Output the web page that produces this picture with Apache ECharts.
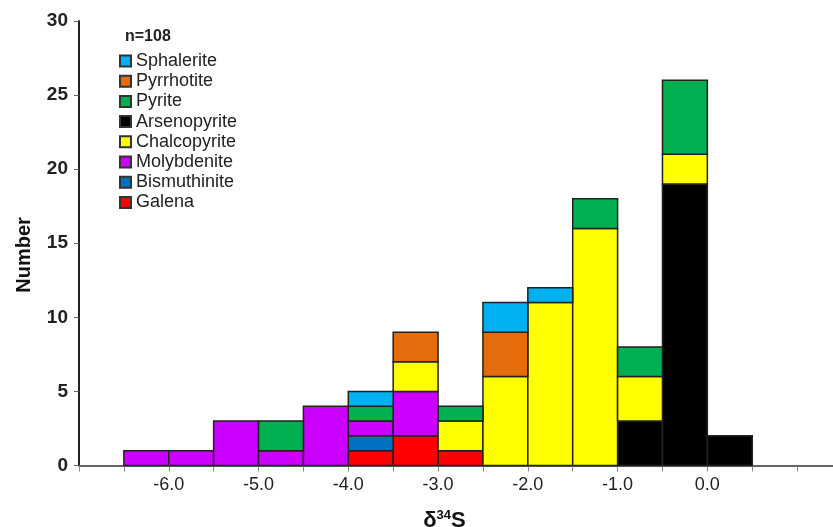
<!DOCTYPE html>
<html>
<head>
<meta charset="utf-8">
<title>δ34S histogram</title>
<script src="https://cdn.jsdelivr.net/npm/echarts@6/dist/echarts.min.js"></script>
<style>
  html, body { margin: 0; padding: 0; background: #fff; }
  #chart { width: 833px; height: 527px; }
</style>
</head>
<body>
<div id="chart"></div>
<script>
// bin left edges (δ34S, bin width 0.5)
const binStarts = [-6.5, -6.0, -5.5, -5.0, -4.5, -4.0, -3.5, -3.0, -2.5, -2.0, -1.5, -1.0, -0.5, 0.0];
const binWidth = 0.5;

// counts per bin, in stacking order (bottom -> top)
const galena       = [0, 0, 0, 0, 0, 1, 2, 1, 0, 0, 0, 0, 0, 0];
const bismuthinite = [0, 0, 0, 0, 0, 1, 0, 0, 0, 0, 0, 0, 0, 0];
const molybdenite  = [1, 1, 3, 1, 4, 1, 3, 0, 0, 0, 0, 0, 0, 0];
const arsenopyrite = [0, 0, 0, 0, 0, 0, 0, 0, 0, 0, 0, 3, 19, 2];
const chalcopyrite = [0, 0, 0, 0, 0, 0, 2, 2, 6, 11, 16, 3, 2, 0];
const pyrite       = [0, 0, 0, 2, 0, 1, 0, 1, 0, 0, 2, 2, 5, 0];
const pyrrhotite   = [0, 0, 0, 0, 0, 0, 2, 0, 3, 0, 0, 0, 0, 0];
const sphalerite   = [0, 0, 0, 0, 0, 1, 0, 0, 2, 1, 0, 0, 0, 0];

const minerals = [
  { name: 'Galena',       data: galena,       color: '#ff0000' },
  { name: 'Bismuthinite', data: bismuthinite, color: '#0070c0' },
  { name: 'Molybdenite',  data: molybdenite,  color: '#cc00ff' },
  { name: 'Arsenopyrite', data: arsenopyrite, color: '#000000' },
  { name: 'Chalcopyrite', data: chalcopyrite, color: '#ffff00' },
  { name: 'Pyrite',       data: pyrite,       color: '#00b050' },
  { name: 'Pyrrhotite',   data: pyrrhotite,   color: '#e46c0a' },
  { name: 'Sphalerite',   data: sphalerite,   color: '#00b0f0' }
];
const legendOrder = ['Sphalerite', 'Pyrrhotite', 'Pyrite', 'Arsenopyrite', 'Chalcopyrite', 'Molybdenite', 'Bismuthinite', 'Galena'];
const sampleCount = 'n=108';

const chart = echarts.init(document.getElementById('chart'));

// running stack height per bin
const stackTop = binStarts.map(() => 0);

const series = minerals.map(m => {
  const items = [];
  m.data.forEach((v, i) => {
    const bottom = stackTop[i];
    stackTop[i] += v;
    if (v > 0) items.push([binStarts[i], binStarts[i] + binWidth, bottom, bottom + v]);
  });
  return {
    name: m.name,
    type: 'custom',
    itemStyle: { color: m.color, borderColor: '#333', borderWidth: 1 },
    encode: { x: [0, 1], y: [2, 3] },
    renderItem: (params, api) => {
      const p0 = api.coord([api.value(0), api.value(2)]);
      const p1 = api.coord([api.value(1), api.value(3)]);
      return {
        type: 'rect',
        shape: { x: p0[0], y: p1[1], width: p1[0] - p0[0], height: p0[1] - p1[1] },
        style: { fill: m.color, stroke: '#222', lineWidth: 1.5 }
      };
    },
    data: items
  };
});

const option = {
  animation: false,
  grid: { left: 79, right: -9, top: 21, bottom: 61.5, outerBoundsMode: 'none' },
  legend: {
    data: legendOrder,
    orient: 'vertical',
    left: 119,
    top: 52,
    padding: 0,
    itemWidth: 11,
    itemHeight: 11,
    itemGap: 2.2,
    icon: 'rect',
    textStyle: { fontFamily: 'Liberation Sans', fontSize: 18, lineHeight: 18, color: '#222' }
  },
  graphic: [{
    type: 'text',
    left: 125,
    top: 29,
    style: { text: sampleCount, font: 'bold 16px "Liberation Sans"', fill: '#222' }
  }, {
    type: 'text',
    x: 24,
    y: 255,
    rotation: Math.PI / 2,
    style: {
      text: 'Number',
      font: 'bold 20px "Liberation Sans"',
      fill: '#111',
      align: 'center',
      verticalAlign: 'middle'
    }
  }],
  xAxis: {
    type: 'value',
    min: -7,
    max: 1.5,
    interval: 0.5,
    name: '{d|δ}{s|34}{d|S}',
    nameLocation: 'middle',
    nameGap: 43,
    nameTextStyle: {
      padding: [0, 32, 0, 0],
      rich: {
        d: { fontFamily: 'Liberation Sans', fontSize: 22, fontWeight: 'bold', color: '#111' },
        s: { fontFamily: 'Liberation Sans', fontSize: 13, fontWeight: 'bold', color: '#111', verticalAlign: 'bottom', padding: [0, 0, 12, 0] }
      }
    },
    splitLine: { show: false },
    axisLine: { lineStyle: { color: '#333', width: 1.5 } },
    axisTick: { length: 6, lineStyle: { color: '#888' } },
    axisLabel: {
      margin: 11,
      fontFamily: 'Liberation Sans',
      fontSize: 18,
      color: '#222',
      formatter: v => (Number.isInteger(v) && v >= -6 && v <= 0) ? v.toFixed(1) : ''
    }
  },
  yAxis: {
    type: 'value',
    min: 0,
    max: 30,
    interval: 5,
    splitLine: { show: false },
    axisLine: { show: true, onZero: false, lineStyle: { color: '#222', width: 2 } },
    axisTick: { show: true, length: 5, lineStyle: { color: '#666' } },
    axisLabel: {
      margin: 11,
      fontFamily: 'Liberation Sans',
      fontSize: 19,
      fontWeight: 'bold',
      color: '#222'
    }
  },
  series: series
};

chart.setOption(option);
window.addEventListener('resize', () => chart.resize());
</script>
</body>
</html>
